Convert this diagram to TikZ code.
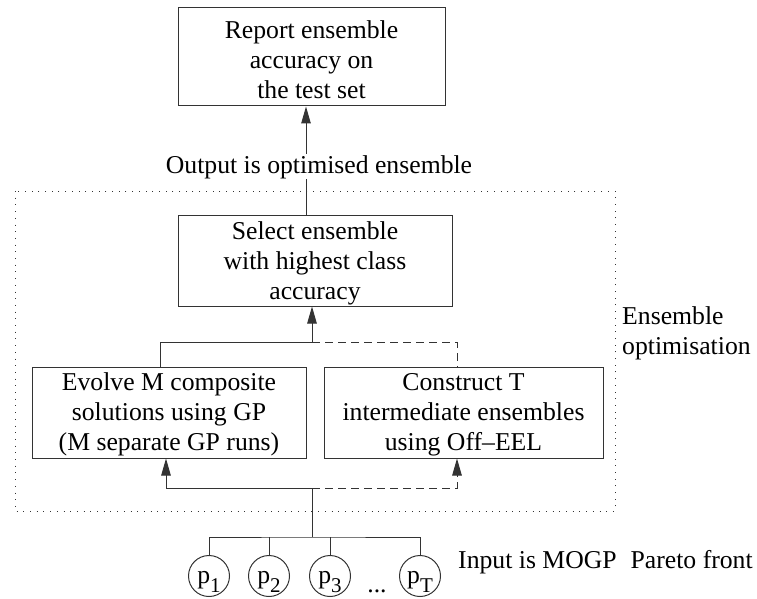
\documentclass[tikz,border=0pt]{standalone}
\usepackage{fontspec}
\setmainfont{Liberation Serif}
\usetikzlibrary{arrows.meta}
\newcommand\psub[1]{\raisebox{-9pt}{\fontsize{21pt}{21pt}\selectfont #1}}
% strut that lowers the text block inside a box
\newcommand\firstline[1]{\rule{0pt}{#1}}
\begin{document}
\begin{tikzpicture}[x=1pt,y=-1pt,
  every node/.style={font=\fontsize{25.7pt}{30pt}\selectfont, text=black},
  box/.style={draw=black!80, line width=1pt, align=center, inner sep=0pt},
  ln/.style={draw=black!80, line width=1pt},
  arr/.style={ln, -{Triangle[length=17pt,width=9.5pt]}},
  dsh/.style={dash pattern=on 8pt off 5pt},
  pnode/.style={draw=black!80, line width=1pt, circle, minimum size=41pt,
                inner sep=0pt, text height=18pt, text depth=4pt}
]
\useasboundingbox (0,0) rectangle (757,599);

% frame of the optimisation stage
\draw[black!80, line width=1pt, dash pattern=on 1pt off 5.7pt] (15,191) rectangle (615,511);

% process boxes
\node[box, minimum width=267pt, minimum height=98pt] (rep) at (311.5,57)
  {\firstline{24pt}Report ensemble\\accuracy on\\the test set};
\node[box, minimum width=274pt, minimum height=91pt] (sel) at (315,260.5)
  {\firstline{22.6pt}Select ensemble\\with highest class\\accuracy};
\node[box, minimum width=274pt, minimum height=91pt] (ev) at (169,412.5)
  {\firstline{22pt}Evolve M composite\\solutions using GP\\(M separate GP runs)};
\node[box, minimum width=279pt, minimum height=91pt] (co) at (463.5,412.5)
  {\firstline{22pt}Construct T\\intermediate ensembles\\using Off\textendash EEL};

% Pareto front members
\node[pnode] (p1) at (209,576) {p\psub{1}};
\node[pnode] (p2) at (269,576) {p\psub{2}};
\node[pnode] (p3) at (330,576) {p\psub{3}};
\node[pnode] (pT) at (420,576) {p\psub{T}};
\node[anchor=base, inner sep=0pt] (dots) at (377,592) {...};

% junction points
\coordinate (jin) at (312,537);
\coordinate (jdn) at (312,488);
\coordinate (jup) at (312,342);

% input bus
\draw[ln] (p1.north) |- (jin) -| (pT.north);
\draw[ln] (p2.north) -- (p2.north |- jin);
\draw[ln] (p3.north) -- (p3.north |- jin);
\draw[ln] (jin) -- (jdn);

% feed into the two generation stages
\draw[arr] (jdn) -| ([xshift=-3pt]ev.south);
\draw[arr, dsh] (jdn) -| ([xshift=-6.5pt]co.south);

% collect the candidates for selection
\draw[ln] ([xshift=-9pt]ev.north) |- (jup);
\draw[ln, dsh] (jup) -| ([xshift=-6.5pt]co.north);
\draw[arr] (jup) -- (jup |- sel.south);

% output to the final report
\draw[arr] ([xshift=-9pt]sel.north) -- ([xshift=-9pt]sel.north |- rep.south);
\node[fill=white, inner sep=1pt, anchor=base] (out) at (319,173)
  {Output is optimised ensemble};

% labels
\node[anchor=west, align=left, inner sep=0pt] (eo) at (622,333)
  {Ensemble\\optimisation};
\node[anchor=base west, inner sep=0pt] (inp) at (458,568)
  {Input is MOGP\hspace{14pt}Pareto front};
\end{tikzpicture}
\end{document}
